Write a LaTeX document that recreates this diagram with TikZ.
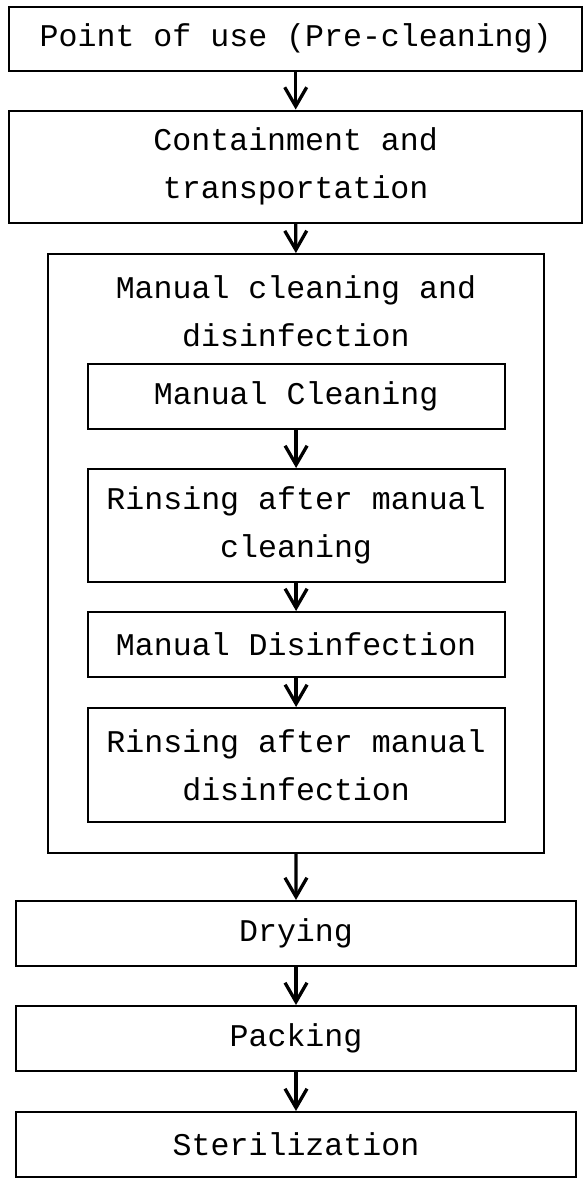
\documentclass[tikz,border=0pt]{standalone}
\usepackage{fontspec}
\setmainfont{Liberation Mono}
\usetikzlibrary{arrows.meta}
\begin{document}
\begin{tikzpicture}[x=1pt,y=-1pt,
  box/.style={draw=black, line width=2pt, rectangle, inner sep=0pt, align=center,
    font=\fontsize{31.6pt}{48pt}\selectfont},
  wide/.style={box, minimum width=572.7pt},
  inbox/.style={box, minimum width=416.8pt},
  low/.style={box, minimum width=560.7pt},
  title/.style={inner sep=0pt, align=center, font=\fontsize{31.6pt}{48pt}\selectfont},
  flow/.style={line width=3.3pt, -{Straight Barb[length=19pt,width=22pt,line width=3.3pt]}}]
\useasboundingbox (0,0) rectangle (583,1178);
\node[wide, minimum height=64.5pt] (top) at (295.7,38.8) {Point of use (Pre-cleaning)};
\node[wide, minimum height=112.5pt] (cont) at (295.7,166.8) {Containment and\\transportation};
\node[draw=black, line width=2pt, rectangle, inner sep=0pt, minimum width=495.2pt, minimum height=598.5pt] (outer) at (295.9,553.3) {};
\node[title] (otitle) at (295.9,311) {Manual cleaning and\\disinfection};
\node[inbox, minimum height=65pt] (in1) at (296.1,396.5) {Manual Cleaning};
\node[inbox, minimum height=113pt] (in2) at (296.1,525.5) {Rinsing after manual\\cleaning};
\node[inbox, minimum height=65pt] (in3) at (296.1,644.5) {Manual Disinfection};
\node[inbox, minimum height=114pt] (in4) at (296.1,765) {Rinsing after manual\\disinfection};
\node[low, minimum height=65pt] (dry) at (296,933.5) {Drying};
\node[low, minimum height=65pt] (pack) at (296,1038.5) {Packing};
\node[low, minimum height=65pt] (ster) at (296,1144.5) {Sterilization};
\draw[flow] (top.south) -- (cont.north);
\draw[flow] (cont.south) -- (outer.north);
\draw[flow] (in1.south) -- (in2.north);
\draw[flow] (in2.south) -- (in3.north);
\draw[flow] (in3.south) -- (in4.north);
\draw[flow] (outer.south) -- (dry.north);
\draw[flow] (dry.south) -- (pack.north);
\draw[flow] (pack.south) -- (ster.north);
\end{tikzpicture}
\end{document}
